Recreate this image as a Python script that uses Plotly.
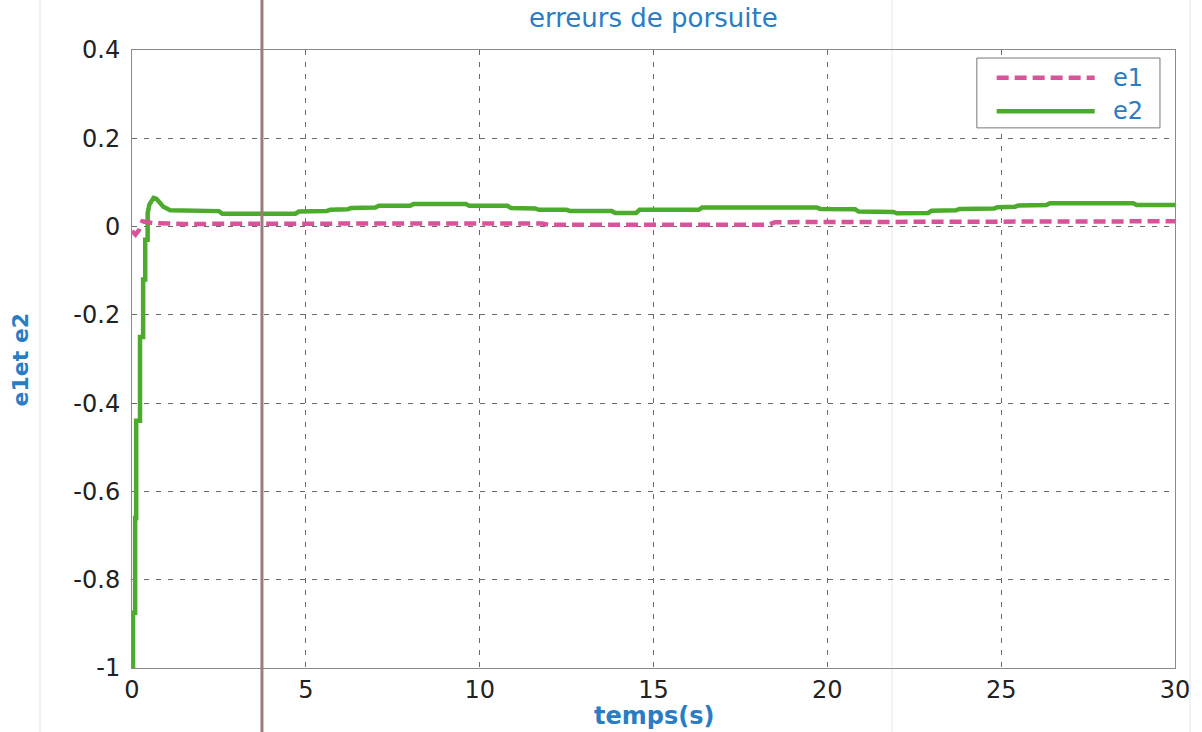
import plotly.graph_objects as go

# Time base and tracking errors (step-like simulation output)
t_e2 = [0, 0.03, 0.03, 0.09, 0.09, 0.12, 0.12, 0.23, 0.23, 0.32, 0.32, 0.38, 0.38,
        0.45, 0.45, 0.5, 0.62, 0.7, 0.9, 1.1, 2.5, 2.6, 4.7, 4.8, 5.6, 5.7, 6.2, 6.3,
        7.0, 7.1, 8.0, 8.1, 9.6, 9.7, 10.8, 10.9, 11.6, 11.7, 12.5, 12.6, 13.8, 13.9,
        14.5, 14.6, 16.3, 16.4, 19.7, 19.8, 20.8, 20.9, 21.9, 22.0, 22.9, 23.0, 23.7,
        23.8, 24.8, 24.9, 25.4, 25.5, 26.3, 26.4, 28.8, 28.9, 30]
e2 = [-1, -1, -0.875, -0.875, -0.66, -0.66, -0.44, -0.44, -0.25, -0.25, -0.12, -0.12,
      -0.03, -0.03, 0.03, 0.05, 0.065, 0.063, 0.045, 0.037, 0.035, 0.029, 0.029, 0.034,
      0.035, 0.038, 0.039, 0.042, 0.043, 0.047, 0.047, 0.051, 0.051, 0.047, 0.047,
      0.042, 0.041, 0.038, 0.038, 0.035, 0.035, 0.031, 0.031, 0.038, 0.038, 0.043,
      0.043, 0.040, 0.039, 0.034, 0.033, 0.030, 0.031, 0.036, 0.037, 0.040, 0.041,
      0.044, 0.045, 0.048, 0.049, 0.053, 0.053, 0.049, 0.049]

t_e1 = [0, 0.1, 0.2, 0.3, 0.6, 1.5, 8.0, 11.8, 12.0, 18.3, 18.5, 25.0, 30.0]
e1 = [-0.01, -0.018, -0.008, 0.012, 0.008, 0.006, 0.007, 0.007, 0.004, 0.004,
      0.010, 0.011, 0.012]

x_ticks = [0, 5, 10, 15, 20, 25, 30]
y_ticks = [0.4, 0.2, 0, -0.2, -0.4, -0.6, -0.8, -1]
y_tick_text = ["0.4", "0.2", "0", "-0.2", "-0.4", "-0.6", "-0.8", "-1"]

PINK = "#d9539b"
GREEN = "#4cab2c"
BLUE = "#2a7cc4"
FONT = "DejaVu Sans"

fig = go.Figure()
fig.add_trace(go.Scatter(x=t_e2, y=e2, mode="lines", name="e2",
                         line=dict(color=GREEN, width=4.5), showlegend=False))
fig.add_trace(go.Scatter(x=t_e1, y=e1, mode="lines", name="e1",
                         line=dict(color=PINK, width=4.5, dash="12px,6px"),
                         showlegend=False))

axis_common = dict(
    showline=True, mirror=True, linecolor="#8a8a8a", linewidth=1,
    showgrid=True, gridcolor="#6a6a6a", gridwidth=1, griddash="5px,7px",
    zeroline=False, ticks="", tickfont=dict(family=FONT, size=24, color="#222"),
)

fig.update_layout(
    width=1202, height=732,
    margin=dict(l=132, r=27, t=50, b=64),
    paper_bgcolor="white", plot_bgcolor="white",
    xaxis=dict(range=[0, 30], tickvals=x_ticks, **axis_common),
    yaxis=dict(range=[-1, 0.4], tickvals=y_ticks, ticktext=y_tick_text,
               ticklabelstandoff=6, **axis_common),
    showlegend=False,
)

centred = dict(xref="paper", yref="paper", showarrow=False,
               xanchor="center", yanchor="middle")

# Titles
fig.add_annotation(text="erreurs de porsuite", x=0.5, y=1.052,
                   font=dict(family=FONT, size=26, color=BLUE), **centred)
fig.add_annotation(text="<b>temps(s)</b>", x=0.5, y=-0.078,
                   font=dict(family=FONT, size=24, color=BLUE), **centred)
fig.add_annotation(text="<b>e1et e2</b>", x=-0.107, y=0.50, textangle=-90,
                   font=dict(family=FONT, size=22, color=BLUE), **centred)

# Legend box
fig.add_shape(type="rect", xref="paper", yref="paper",
              x0=0.810, x1=0.9856, y0=0.874, y1=0.987,
              line=dict(color="#777", width=1), fillcolor="white", layer="above")
fig.add_shape(type="line", xref="paper", yref="paper",
              x0=0.829, x1=0.923, y0=0.955, y1=0.955,
              line=dict(color=PINK, width=4.5, dash="12px,6px"), layer="above")
fig.add_shape(type="line", xref="paper", yref="paper",
              x0=0.829, x1=0.923, y0=0.901, y1=0.901,
              line=dict(color=GREEN, width=4.5), layer="above")
for name, yy in (("e1", 0.955), ("e2", 0.901)):
    fig.add_annotation(text=name, x=0.955, y=yy,
                       font=dict(family=FONT, size=24, color=BLUE), **centred)

# Vertical rule lines across the whole sheet
fig.add_shape(type="line", xref="paper", yref="paper",
              x0=0.1246, x1=0.1246, y0=-0.12, y1=1.09,
              line=dict(color="#9b7c7c", width=3), layer="above")
for xp, col in ((-0.0882, "#e4e4e4"), (0.7287, "#e8e8e8"), (1.0144, "#e4e4e4")):
    fig.add_shape(type="line", xref="paper", yref="paper",
                  x0=xp, x1=xp, y0=-0.12, y1=1.09,
                  line=dict(color=col, width=1), layer="below")

fig.write_html("out.html")
